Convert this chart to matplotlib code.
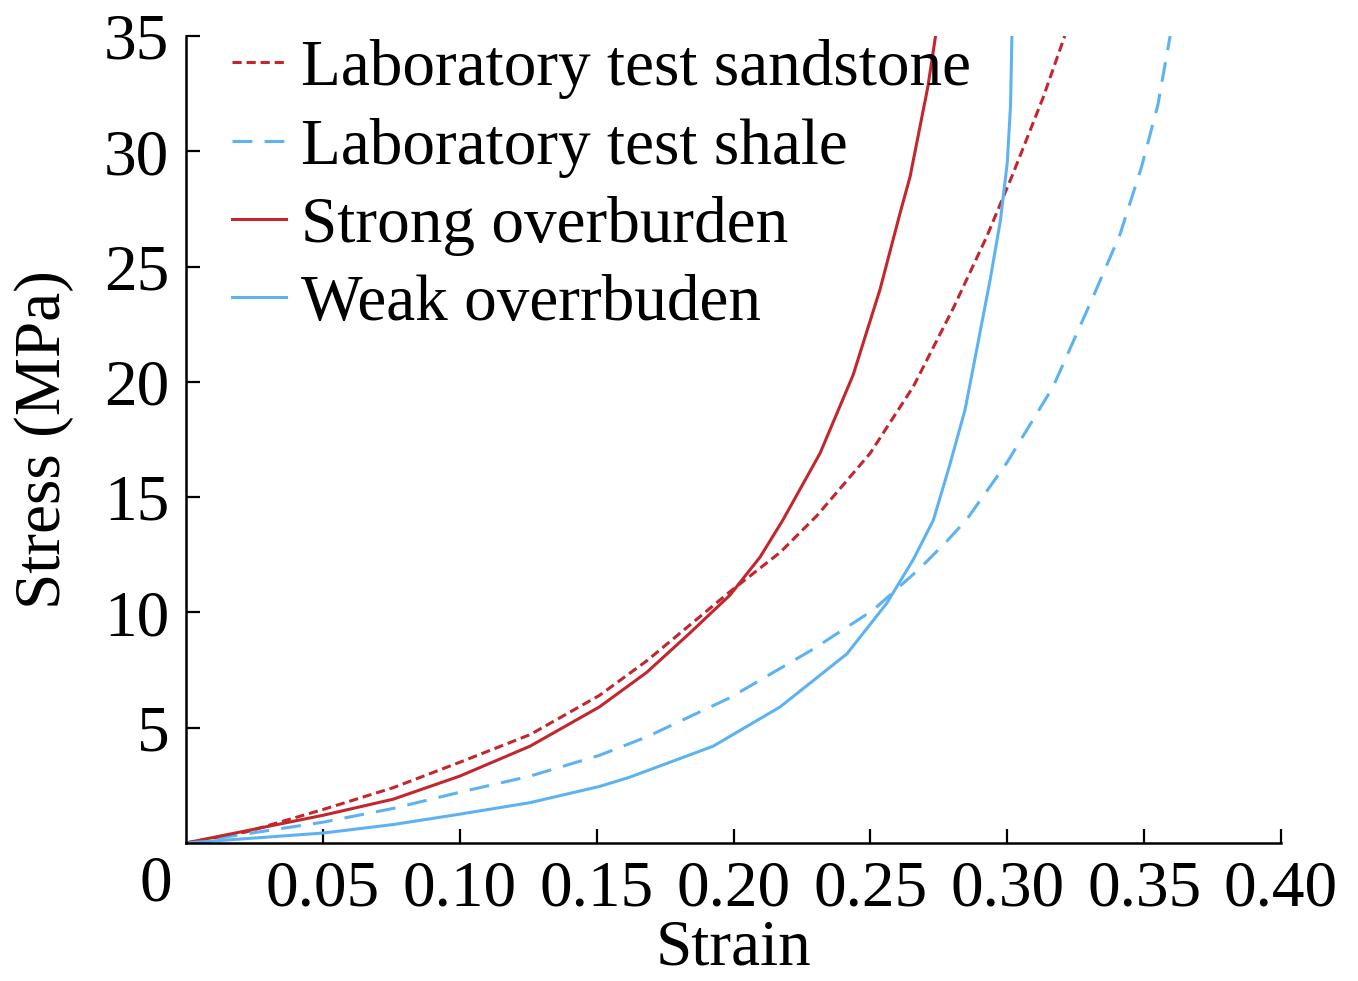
import matplotlib
matplotlib.use("Agg")
import matplotlib.pyplot as plt

# ---------------------------------------------------------------- data
# values (strain [-], stress [MPa])
sand_lab_strain = [0.0, 0.022, 0.05, 0.0757, 0.10, 0.1257, 0.151, 0.1683,
                   0.1987, 0.217, 0.2305, 0.2499, 0.2657, 0.2803, 0.2925,
                   0.302, 0.313, 0.321]
sand_lab_stress = [0.0, 0.48, 1.45, 2.4, 3.5, 4.7, 6.4, 7.9,
                   10.9, 12.6, 14.2, 16.9, 19.8, 23.2, 26.3,
                   29.0, 32.3, 35.0]

shale_lab_strain = [0.0, 0.05, 0.0757, 0.10, 0.1257, 0.151, 0.1683, 0.1987,
                    0.229, 0.251, 0.268, 0.278, 0.285, 0.2999, 0.3168,
                    0.3314, 0.3412, 0.349, 0.355, 0.3595]
shale_lab_stress = [0.0, 0.9, 1.5, 2.2, 2.9, 3.8, 4.6, 6.3,
                    8.4, 10.1, 11.9, 13.1, 14.0, 16.5, 19.8,
                    23.7, 26.4, 29.3, 32.0, 35.0]

strong_strain = [0.0, 0.05, 0.0757, 0.10, 0.1257, 0.151, 0.1683, 0.184,
                 0.1987, 0.2097, 0.218, 0.2316, 0.2437, 0.2535, 0.2608,
                 0.2645, 0.271, 0.2738]
strong_stress = [0.0, 1.2, 1.9, 2.9, 4.2, 5.9, 7.4, 9.1,
                 10.75, 12.4, 14.0, 16.9, 20.3, 24.0, 27.3,
                 28.9, 32.8, 35.0]

weak_strain = [0.0, 0.05, 0.0757, 0.10, 0.1257, 0.151, 0.162, 0.1926,
               0.217, 0.2414, 0.256, 0.2657, 0.273, 0.279, 0.2846, 0.289,
               0.2937, 0.2975, 0.300, 0.3012, 0.3017]
weak_stress = [0.0, 0.43, 0.8, 1.25, 1.75, 2.45, 2.85, 4.2,
               5.9, 8.2, 10.4, 12.3, 14.0, 16.4, 18.8, 21.5,
               24.4, 27.0, 29.5, 32.0, 35.0]

labels = ["Laboratory test sandstone", "Laboratory test shale",
          "Strong overburden", "Weak overrbuden"]
x_ticks = [0.05, 0.10, 0.15, 0.20, 0.25, 0.30, 0.35, 0.40]
y_ticks = [5, 10, 15, 20, 25, 30, 35]

RED = "#C1272D"
BLUE = "#5DB3F2"

plt.rcParams["font.family"] = ["Liberation Serif", "DejaVu Serif"]
FS = 47

fig = plt.figure(figsize=(13.58, 9.81), dpi=100)
ax = fig.add_axes([0.137, 0.1407, 0.8063, 0.8226])

lw = 2.2
l1, = ax.plot(sand_lab_strain, sand_lab_stress, color=RED, lw=lw,
              dashes=(3.0, 1.6), label=labels[0])
l2, = ax.plot(shale_lab_strain, shale_lab_stress, color=BLUE, lw=lw,
              dashes=(6.5, 4.0), label=labels[1])
l3, = ax.plot(strong_strain, strong_stress, color=RED, lw=lw, label=labels[2])
l4, = ax.plot(weak_strain, weak_stress, color=BLUE, lw=lw, label=labels[3])

ax.set_xlim(0, 0.40)
ax.set_ylim(0, 35)
ax.set_xticks(x_ticks)
ax.set_xticklabels([f"{v:.2f}" for v in x_ticks])
ax.set_yticks(y_ticks)
ax.set_yticklabels([str(v) for v in y_ticks])
ax.tick_params(direction="in", length=10, width=1.6, labelsize=FS, pad=12)
ax.tick_params(axis="y", pad=12)
for s in ("top", "right"):
    ax.spines[s].set_visible(False)
for s in ("left", "bottom"):
    ax.spines[s].set_linewidth(1.8)

# origin label sits below-left of the corner
ax.text(-0.028, -0.052, "0", transform=ax.transAxes, fontsize=FS,
        ha="center", va="center")

ax.set_xlabel("Strain", fontsize=FS, labelpad=0)
ax.set_ylabel("Stress (MPa)", fontsize=FS, labelpad=22)

ax.legend(handles=[l1, l2, l3, l4], loc="upper left",
          bbox_to_anchor=(0.042, 0.996), frameon=False, fontsize=FS,
          handlelength=0.82, handletextpad=0.23, labelspacing=0.28,
          borderpad=0, borderaxespad=0)

fig.savefig("out.png", dpi=100)
